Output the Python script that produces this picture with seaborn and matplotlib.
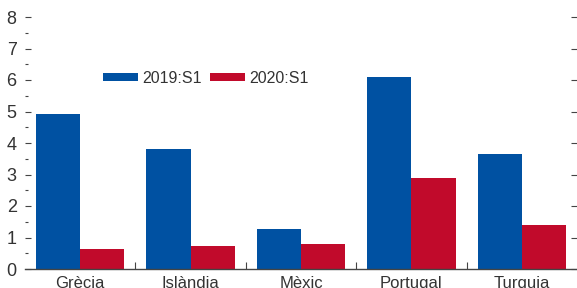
import pandas as pd
import numpy as np
import matplotlib.pyplot as plt
import seaborn as sns
from matplotlib.ticker import MultipleLocator, FixedLocator

# Dades del gràfic
paisos = ['Grècia', 'Islàndia', 'Mèxic', 'Portugal', 'Turquia']
periodes = ['2019:S1', '2020:S1']
valors_2019 = [4.91, 3.81, 1.27, 6.10, 3.65]
valors_2020 = [0.62, 0.73, 0.79, 2.89, 1.40]

df = pd.DataFrame({
    'pais': paisos * 2,
    'periode': [periodes[0]] * len(paisos) + [periodes[1]] * len(paisos),
    'valor': valors_2019 + valors_2020,
})

sns.set_style('white')
plt.rcParams['font.family'] = ['Liberation Sans', 'DejaVu Sans']

blau = '#0051A2'
vermell = '#C10A2B'
gris = '#444444'

fig = plt.figure(figsize=(5.77, 2.88), dpi=100)
ax = fig.add_axes([25 / 577, 19 / 288, 552 / 577, 252 / 288])

sns.barplot(data=df, x='pais', y='valor', hue='periode', palette=[blau, vermell],
            width=0.8, gap=0, saturation=1, linewidth=0, ax=ax)

ax.set_xlim(-0.5, 4.5)
ax.set_ylim(0, 8)
ax.set_xlabel('')
ax.set_ylabel('')

# Eixos i marques
for s in ['top', 'left', 'right']:
    ax.spines[s].set_visible(False)
ax.spines['bottom'].set_color(gris)
ax.spines['bottom'].set_linewidth(1)

ax.yaxis.set_major_locator(MultipleLocator(1))
ax.yaxis.set_minor_locator(MultipleLocator(0.5))
ax.tick_params(axis='y', which='major', left=True, right=True, direction='in', length=4,
               width=0.8, color=gris, labelsize=13, labelcolor='#333333', pad=6)
ax.tick_params(axis='y', which='minor', left=True, right=False, direction='in', length=2,
               width=0.8, color=gris)
ax.yaxis.get_major_ticks()[0].tick1line.set_visible(False)

ax.xaxis.set_minor_locator(FixedLocator([0.5, 1.5, 2.5, 3.5]))
ax.tick_params(axis='x', which='major', length=0, labelsize=12, labelcolor='#333333', pad=5)
ax.tick_params(axis='x', which='minor', bottom=True, direction='in', length=5,
               width=0.8, color=gris)

# Llegenda
ax.legend(loc='upper left', bbox_to_anchor=(0.13, 0.812), ncol=2, frameon=False,
          fontsize=11.5, handlelength=2.2, handleheight=0.45, handletextpad=0.25,
          columnspacing=0.5, labelcolor='#333333', borderaxespad=0)

plt.savefig('out.png', dpi=100)
